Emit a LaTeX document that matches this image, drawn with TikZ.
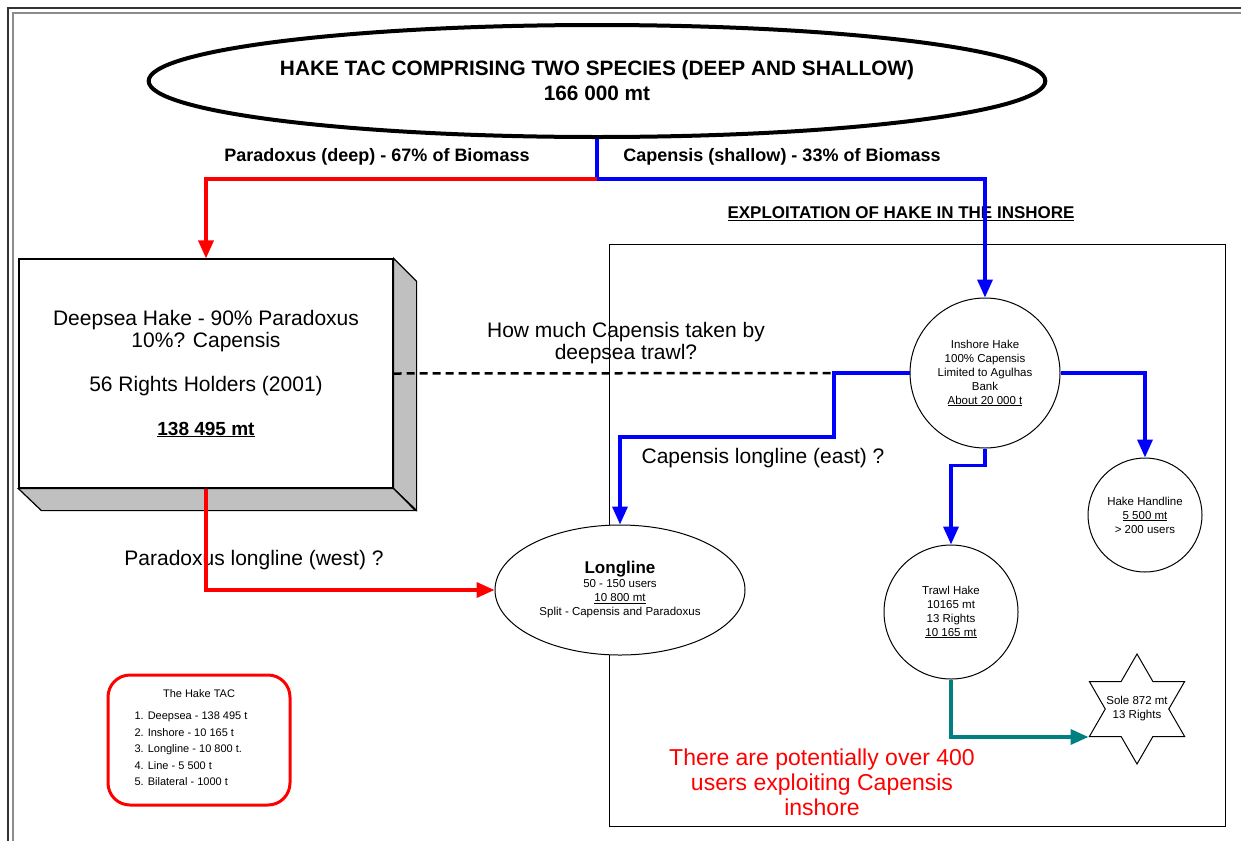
\documentclass[tikz,border=0pt]{standalone}
\usepackage{fontspec}
\setmainfont{Liberation Sans}
\usetikzlibrary{shapes.geometric,arrows.meta}
\definecolor{deepred}{RGB}{255,0,0}
\definecolor{shallowblue}{RGB}{0,0,255}
\definecolor{soleteal}{RGB}{0,128,128}
\definecolor{sidegrey}{RGB}{192,192,192}

\begin{document}
\begin{tikzpicture}[x=1pt,y=-1pt]
    \tikzstyle{plaintext} = [font=\fontsize{21}{22}\selectfont]
    \tikzstyle{headtext} = [font=\fontsize{18}{22}\selectfont\bfseries]
    \tikzstyle{smalltext} = [font=\fontsize{11.5}{14}\selectfont]
    \tikzstyle{station} = [draw, circle, fill=white, line width=1pt, inner sep=0pt, align=center, smalltext]
    \tikzstyle{deepline} = [draw=deepred, line width=3.5pt]
    \tikzstyle{shallowline} = [draw=shallowblue, line width=3.5pt]
    \tikzstyle{arrowend} = [-{Triangle[width=15pt,length=18pt]}]
    \useasboundingbox (0,0) rectangle (1241,841);
    % double frame
    \draw[line width=2pt, black!80] (8,841) -- (8,8) -- (1241,8);
    \draw[line width=1.5pt, black!45] (13,841) -- (13,13) -- (1241,13);
    % inshore area
    \node[plaintext, align=center] (trawlquery) at (626,343) {How much Capensis taken by\\deepsea trawl?};
    \draw[line width=1pt] (609,244) rectangle (1225,826);
    \node[font=\fontsize{17}{20}\selectfont\bfseries] (inshoretitle) at (901,214) {\underline{EXPLOITATION OF HAKE IN THE INSHORE}};
    % deepsea box
    \node[draw, fill=white, line width=1.2pt, minimum width=374pt, minimum height=229pt, inner sep=0pt, align=center, plaintext] (deepsea) at (206,373.5)
      {Deepsea Hake - 90\% Paradoxus\\10\%? Capensis\\[22pt]56 Rights Holders (2001)\\[22pt]{\fontsize{19}{22}\selectfont\bfseries\underline{138 495 mt}}};
    \filldraw[fill=sidegrey, line width=1.2pt] (deepsea.north east) -- ++(23,23) -- ++(0,229) -- (deepsea.south east) -- cycle;
    \filldraw[fill=sidegrey, line width=1.2pt] (deepsea.south west) -- ++(23,22) -- ++(374,0) -- (deepsea.south east) -- cycle;
    % title
    \node[draw, ellipse, line width=4pt, minimum width=894pt, minimum height=112pt, inner sep=0pt, align=center, font=\fontsize{20.8}{25}\selectfont\bfseries] (title) at (597,81)
      {HAKE TAC COMPRISING TWO SPECIES (DEEP AND SHALLOW)\\166 000 mt};
    \node[headtext] (deeplabel) at (377,157) {Paradoxus (deep) - 67\% of Biomass};
    \node[headtext] (shallowlabel) at (782,157) {Capensis (shallow) - 33\% of Biomass};
    % fisheries
    \node[station, minimum size=150pt] (inshore) at (985,373)
      {Inshore Hake\\100\% Capensis\\Limited to Agulhas\\Bank\\\underline{About 20 000 t}};
    \node[station, minimum size=114pt] (handline) at (1145,515) {Hake Handline\\\underline{5 500 mt}\\> 200 users};
    \node[station, minimum size=134pt] (trawl) at (951,612) {Trawl Hake\\10165 mt\\13 Rights\\\underline{10 165 mt}};
    \node[draw, star, star points=6, star point ratio=1.732, minimum size=110pt, inner sep=0pt, fill=white, line width=1pt,
      label={[align=center, smalltext]center:Sole 872 mt\\13 Rights}] (sole) at (1137,709) {};
    \node[draw, ellipse, fill=white, line width=1pt, minimum width=250pt, minimum height=130pt, inner sep=0pt, align=center, smalltext] (longline) at (620,590)
      {{\fontsize{17}{20}\selectfont\bfseries Longline}\\50 - 150 users\\\underline{10 800 mt}\\Split - Capensis and Paradoxus};
    % legend
    \node[draw=deepred, line width=3pt, rounded corners=22pt, minimum width=182pt, minimum height=130pt, align=center, font=\fontsize{11}{16.5}\selectfont] (tac) at (199,740)
      {The Hake TAC\\[10pt]\hspace*{-16pt}\begin{tabular}{@{}l@{}}1. Deepsea - 138 495 t\\2. Inshore - 10 165 t\\3. Longline - 10 800 t.\\4. Line - 5 500 t\\5. Bilateral - 1000 t\end{tabular}};
    \node[plaintext] (eastquery) at (763,458) {Capensis longline (east) ?};
    \node[plaintext] (westquery) at (254,560) {Paradoxus longline (west) ?};
    \node[font=\fontsize{23}{25}\selectfont, text=deepred, align=center] (usersnote) at (822,782)
      {There are potentially over 400\\users exploiting Capensis\\inshore};
    % connectors
    \coordinate (split) at (title.south |- 0,179);
    \coordinate (eastbend) at (834,373);
    \coordinate (eastdrop) at (834,437);
    \draw[shallowline] (title.south) -- (split);
    \draw[deepline, arrowend] (split) -| (deepsea.north);
    \draw[shallowline, arrowend] (split) -| (inshore.north);
    \draw[deepline, arrowend] (deepsea.south) |- (longline.west);
    \draw[line width=2.5pt, dash pattern=on 8pt off 5pt] (deepsea.east) -- (eastbend);
    \draw[shallowline, arrowend] (inshore.west) -- (eastbend) -- (eastdrop) -| (longline.north);
    \draw[shallowline, arrowend] (inshore.east) -| (handline.north);
    \draw[shallowline, arrowend] (inshore.south) -- ++(0,17) -| (trawl.north);
    \draw[draw=soleteal, line width=3.5pt, arrowend] (trawl.south) |- (sole.outer point 3);
\end{tikzpicture}
\end{document}
